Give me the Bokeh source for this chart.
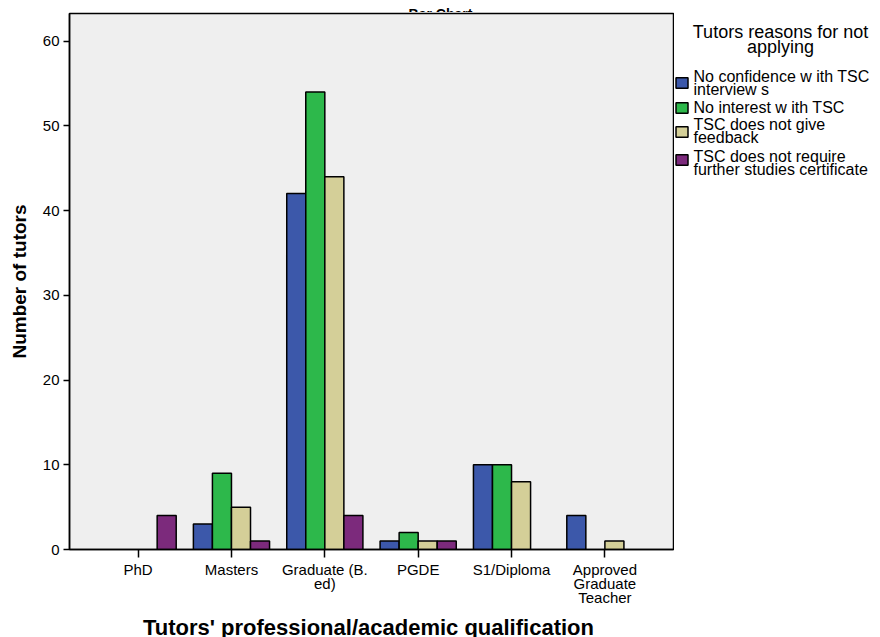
import math
from bokeh.plotting import figure
from bokeh.layouts import row, column
from bokeh.models import (Range1d, FixedTicker, Legend, LegendItem, Label,
                          ColumnDataSource)
from bokeh.embed import file_html
from bokeh.resources import INLINE

# ---------------- data ----------------
categories = ["PhD", "Masters", "Graduate (B.\ned)", "PGDE", "S1/Diploma",
              "Approved\nGraduate\nTeacher"]
series_names = ["No confidence w ith TSC\ninterview s",
                "No interest w ith TSC",
                "TSC does not give\nfeedback",
                "TSC does not require\nfurther studies certificate"]
no_confidence = [0, 3, 42, 1, 10, 4]
no_interest = [0, 9, 54, 2, 10, 0]
no_feedback = [0, 5, 44, 1, 8, 1]
no_certificate = [4, 1, 4, 1, 0, 0]
y_ticks = [0, 10, 20, 30, 40, 50, 60]
chart_title = "Bar Chart"
legend_title = ["Tutors reasons for not", "applying"]
x_title = "Tutors'  professional/academic qualification"
y_title = "Number of tutors"

series_values = [no_confidence, no_interest, no_feedback, no_certificate]
colors = ["#3c58aa", "#2db84b", "#d4cf98", "#7c2a7c"]

FONT = "Liberation Sans"
BAR_W = 0.204
X_RANGE = Range1d(-0.735, 5.735)
DY = 5.5  # baseline correction for text labels


def strip(w, h, x_range=None, left=0, right=0):
    f = figure(width=w, height=h, output_backend="svg", toolbar_location=None,
               x_range=x_range if x_range is not None else Range1d(0, w),
               y_range=Range1d(0, h), min_border=0,
               min_border_left=left, min_border_right=right,
               x_axis_location=None, y_axis_location=None)
    f.outline_line_color = None
    f.grid.visible = False
    f.background_fill_color = "white"
    f.border_fill_color = "white"
    return f


def text(fig, x, y, s, size, align="left", bold=False):
    fig.add_layout(Label(x=x, y=y + DY, text=s, text_align=align,
                         text_baseline="alphabetic", text_font=FONT,
                         text_font_style="bold" if bold else "normal",
                         text_font_size=size, text_color="black"))


# ---------------- top strip: clipped chart title ----------------
figT = strip(674, 12)
text(figT, 414, -7, chart_title, "14px", "center", True)

# ---------------- main plot ----------------
p = figure(width=674, height=549, output_backend="svg", toolbar_location=None,
           x_range=X_RANGE, y_range=Range1d(0, 63.25),
           min_border_left=69, min_border_right=1, min_border_top=1,
           min_border_bottom=12)
p.background_fill_color = "#efefef"
p.border_fill_color = "white"
p.outline_line_color = "black"
p.outline_line_width = 1.5
p.grid.visible = False

for k, (vals, col) in enumerate(zip(series_values, colors)):
    offset = (k - 1.5) * BAR_W
    xs = [i + offset for i, v in enumerate(vals) if v > 0]
    tops = [v for v in vals if v > 0]
    src = ColumnDataSource(dict(x=xs, top=tops))
    p.vbar(x="x", top="top", bottom=0, width=BAR_W, source=src,
           fill_color=col, line_color="black", line_width=1.5)

xa = p.xaxis[0]
xa.ticker = FixedTicker(ticks=list(range(len(categories))))
xa.major_label_overrides = {i: "" for i in range(len(categories))}
xa.major_label_text_font_size = "1px"
xa.major_label_standoff = 0
xa.major_tick_out = 8
xa.major_tick_in = 0
xa.minor_tick_line_color = None
xa.axis_line_width = 1.5
xa.major_tick_line_width = 1.5

ya = p.yaxis[0]
ya.ticker = FixedTicker(ticks=y_ticks)
ya.major_tick_out = 6
ya.major_tick_in = 0
ya.minor_tick_line_color = None
ya.axis_line_width = 1.5
ya.major_tick_line_width = 1.5
ya.major_label_text_font = FONT
ya.major_label_text_font_size = "15px"
ya.major_label_text_color = "black"
ya.major_label_standoff = 4
ya.axis_label = y_title
ya.axis_label_text_font = FONT
ya.axis_label_text_font_style = "bold"
ya.axis_label_text_font_size = "19px"
ya.axis_label_text_color = "black"
ya.axis_label_standoff = 10

# ---------------- bottom strip: category labels + x axis title ----------------
# strip spans page y 561..637; y is measured up from the page bottom
figX = strip(674, 76, x_range=X_RANGE, left=69, right=1)
for i, cat in enumerate(categories):
    for j, line in enumerate(cat.split("\n")):
        text(figX, i, 63 - 14.3 * j, line, "15px", "center")
text(figX, (X_RANGE.start + X_RANGE.end) / 2, 5, x_title, "22px", "center",
     True)

# ---------------- legend panel (page x 674..880) ----------------
figB = strip(206, 637)
text(figB, 106, 600.3, legend_title[0], "18px", "center")
text(figB, 106, 585.0, legend_title[1], "18px", "center")

swatch_bottoms = [548.3, 522.7, 499.3, 471.0]
line_baselines = [[556.0, 542.7], [524.3], [507.7, 494.3], [476.0, 462.7]]
for name, col, sb, bl in zip(series_names, colors, swatch_bottoms,
                             line_baselines):
    r = figB.vbar(x=[math.nan], top=[1], width=1, fill_color=col,
                  line_color="black", line_width=1.5)
    figB.add_layout(Legend(items=[LegendItem(label="", renderers=[r])],
                           location=(0, sb), orientation="vertical",
                           glyph_width=15, glyph_height=13, label_standoff=0,
                           label_width=0, label_height=0,
                           spacing=0, padding=0, margin=0,
                           border_line_color=None, background_fill_alpha=0,
                           label_text_font_size="1px"))
    for line, y in zip(name.split("\n"), bl):
        text(figB, 19, y, line, "16px")

layout = row(column(figT, p, figX, spacing=0), figB, spacing=0)

open("out.html", "w").write(file_html(layout, INLINE))
